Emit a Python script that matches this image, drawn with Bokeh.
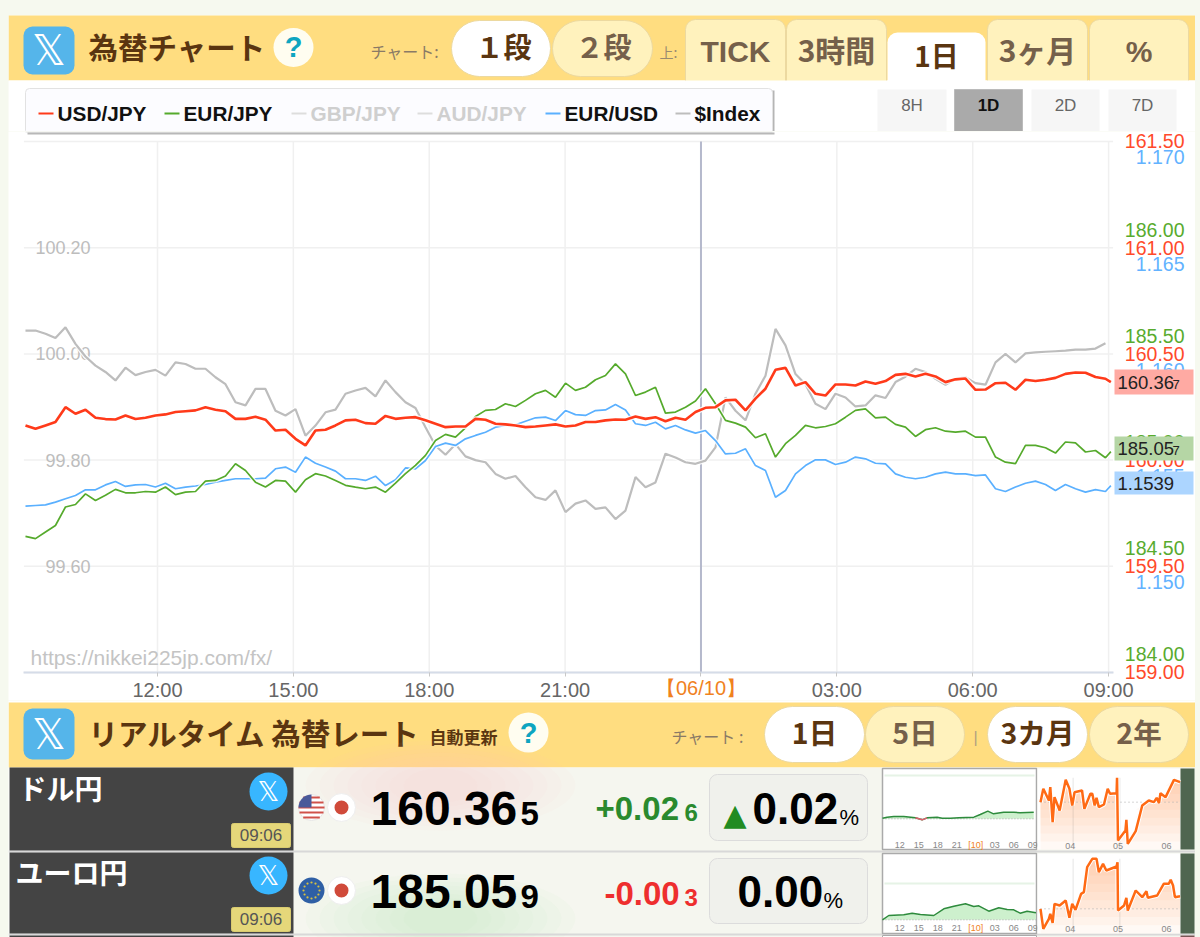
import math
import numpy as np
from bokeh.plotting import figure
from bokeh.layouts import column
from bokeh.models import Range1d, LinearAxis, FixedTicker, NumeralTickFormatter
from bokeh.core.properties import value
from bokeh.embed import file_html
from bokeh.resources import INLINE

# ---------------- data ----------------
TIMES = [round(9.085 + 0.2208 * i, 3) for i in range(109)] + [33.05]

USD_JPY = [160.163,160.147,160.163,160.179,160.249,160.218,160.237,160.199,160.193,160.191,160.210,160.193,160.199,160.210,160.215,160.226,160.230,160.234,160.249,160.237,160.230,160.194,160.194,160.204,160.190,160.139,160.143,160.100,160.069,160.139,160.143,160.163,160.187,160.190,160.174,160.171,160.208,160.194,
160.199,160.202,160.187,160.171,160.155,160.158,160.158,160.194,160.190,160.171,160.168,160.163,160.155,160.158,160.163,160.168,160.158,160.163,160.179,160.179,160.187,160.191,160.190,160.205,160.194,160.202,160.183,160.199,160.190,160.226,160.246,160.249,160.281,160.284,160.234,160.289,160.336,160.425,160.434,160.351,
160.367,160.312,160.304,160.356,160.356,160.351,160.370,160.359,160.372,160.401,160.406,160.394,160.406,160.394,160.367,160.380,160.384,160.331,160.332,160.362,160.364,160.331,160.378,160.372,160.378,160.387,160.406,160.412,160.411,160.391,160.383,160.367]

EUR_JPY = [184.641,184.630,184.661,184.692,184.779,184.791,184.841,184.810,184.834,184.862,184.846,184.846,184.852,184.849,184.873,184.837,184.849,184.852,184.901,184.904,184.925,184.983,184.951,184.896,184.873,184.904,184.901,184.849,184.907,184.936,184.925,184.904,184.881,184.873,184.865,184.873,184.849,184.892,
184.936,184.975,185.022,185.092,185.121,185.108,185.152,185.205,185.234,185.238,185.265,185.252,185.281,185.312,185.328,185.296,185.362,185.328,185.343,185.378,185.398,185.453,185.406,185.304,185.320,185.343,185.221,185.226,185.249,185.278,185.336,185.265,185.187,185.174,185.155,185.105,185.124,185.014,185.077,185.116,
185.163,185.152,185.158,185.171,185.202,185.234,185.241,185.199,185.202,185.168,185.155,185.111,185.143,185.152,185.136,185.132,185.136,185.108,185.108,185.014,184.990,184.983,185.069,185.069,185.058,185.033,185.085,185.081,185.038,185.045,185.011,185.040]

EUR_USD = [1.15283,1.15286,1.15289,1.15302,1.15318,1.15333,1.15360,1.15360,1.15383,1.15399,1.15376,1.15383,1.15385,1.15373,1.15391,1.15365,1.15373,1.15378,1.15385,1.15396,1.15404,1.15412,1.15412,1.15412,1.15415,1.15459,1.15467,1.15443,1.15514,1.15485,1.15467,1.15448,1.15412,1.15412,1.15404,1.15424,1.15380,1.15407,
1.15463,1.15459,1.15498,1.15564,1.15580,1.15569,1.15600,1.15616,1.15631,1.15655,1.15663,1.15666,1.15683,1.15699,1.15702,1.15686,1.15733,1.15714,1.15710,1.15733,1.15736,1.15762,1.15736,1.15671,1.15663,1.15678,1.15647,1.15663,1.15642,1.15627,1.15639,1.15592,1.15529,1.15532,1.15553,1.15474,1.15451,1.15325,1.15357,1.15435,
1.15474,1.15501,1.15501,1.15479,1.15490,1.15514,1.15506,1.15485,1.15482,1.15435,1.15419,1.15412,1.15419,1.15435,1.15443,1.15435,1.15435,1.15427,1.15430,1.15365,1.15352,1.15373,1.15391,1.15401,1.15385,1.15357,1.15385,1.15365,1.15349,1.15361,1.15352,1.15380]

DOLLAR_INDEX = [100.044,100.044,100.038,100.030,100.050,100.019,99.995,99.978,99.966,99.950,99.974,99.960,99.966,99.970,99.959,99.984,99.981,99.972,99.972,99.956,99.943,99.909,99.903,99.934,99.934,99.893,99.884,99.896,99.846,99.865,99.890,99.895,99.925,99.931,99.936,99.920,99.950,99.928,
99.909,99.898,99.862,99.827,99.810,99.830,99.807,99.800,99.796,99.774,99.765,99.770,99.749,99.730,99.725,99.743,99.702,99.718,99.724,99.708,99.711,99.689,99.705,99.768,99.749,99.758,99.812,99.805,99.796,99.793,99.799,99.824,99.918,99.893,99.875,99.925,99.959,100.047,100.016,99.962,
99.943,99.906,99.896,99.925,99.918,99.901,99.903,99.922,99.917,99.947,99.957,99.972,99.966,99.953,99.942,99.953,99.956,99.945,99.942,99.984,100.000,99.984,100.001,100.003,100.004,100.005,100.006,100.008,100.008,100.010,100.020,float("nan")]

USD_TICKS = [159.0, 159.5, 160.0, 160.5, 161.0, 161.5]
EUR_TICKS = [184.0, 184.5, 185.0, 185.5, 186.0]
BLUE_TICKS = [1.150, 1.155, 1.160, 1.165, 1.170]
INDEX_TICKS = [99.6, 99.8, 100.0, 100.2]
TIME_TICKS = {12: "12:00", 15: "15:00", 18: "18:00", 21: "21:00", 24: "", 27: "03:00", 30: "06:00", 33: "09:00"}
DATE_LABEL = "【06/10】"

LEGEND = ["USD/JPY", "EUR/JPY", "GBP/JPY", "AUD/JPY", "EUR/USD", "$Index"]
RANGE_BTNS = ["8H", "1D", "2D", "7D"]

MINI1_HOURS = [9.26,10.0,11.05,12.63,14.47,15.53,16.3,17.9,18.7,20,21.3,23.7,24.7,25.9,26.8,28.4,30,31,33.15]
MINI1_PCT = [.002,.005,.007,.007,.003,-.003,.003,.005,.002,.002,.003,.005,.013,.023,.015,.020,.020,.018,.020]
MINI2_HOURS = [9.26,10.26,12.63,13.95,15.26,17.37,18.95,20.53,22.37,23.68,24.47,26.05,27.63,28.95,30,31,32.1,33.5]
MINI2_PCT = [0,.013,.015,.020,.016,.013,.033,.041,.048,.040,.042,.026,.036,.031,.030,.020,.026,.021]
MINI_TICK_HOURS = [12, 15, 18, 21, 24, 27, 30, 33]
MINI_TICK_TEXT = ["12", "15", "18", "21", "[10]", "03", "06", "09"]

M3A_MONTH = [3.30,3.36,3.48,3.51,3.56,3.60,3.71,3.84,3.92,3.98,4.03,4.19,4.24,4.37,4.41,4.46,4.50,4.55,4.66,4.74,4.79,4.93,4.94,4.96,5.12,5.14,5.17,5.34,5.48,5.62,5.73,5.79,5.84,5.87,5.98,6.16,6.29]
M3A_RATE = [158.00,160.00,158.25,160.25,155.00,158.75,156.75,161.35,160.00,157.50,159.50,159.75,157.00,159.25,159.25,157.50,158.65,157.25,157.65,160.00,159.25,159.35,161.65,152.25,153.75,155.35,151.75,153.65,157.50,158.25,158.00,158.65,157.85,159.35,158.75,161.35,161.00]
M3B_MONTH = [3.30,3.36,3.48,3.51,3.56,3.60,3.71,3.84,3.92,3.98,4.05,4.17,4.23,4.30,4.41,4.50,4.55,4.64,4.71,4.93,4.95,4.96,5.09,5.14,5.17,5.34,5.48,5.57,5.60,5.80,5.94,6.05,6.09,6.14,6.18,6.29]
M3B_RATE = [178.00,174.40,176.20,177.10,175.48,178.90,178.60,179.50,176.38,178.90,177.82,180.70,181.00,185.50,187.00,187.00,184.60,186.10,184.90,185.62,186.40,177.70,178.60,179.98,177.70,181.30,180.10,181.18,179.98,180.40,182.50,182.50,183.22,182.20,180.10,180.28]

# ---------------- helpers ----------------
W = 1187
ARIAL = "Liberation Sans"
CJK = "Noto Sans CJK JP"
PAGE_BG = "#f6f9ef"
BAND = "#ffdd80"
TAB = "#fff2bd"
TAB_EDGE = "#ecd9a0"
BROWN = "#5a3510"
BROWN2 = "#75604a"


def base_fig(height, x_range, y_range, bg):
    f = figure(width=W, height=height, x_range=x_range, y_range=y_range, x_axis_type=None, y_axis_type=None,
               output_backend="svg", toolbar_location=None, tools="", min_border=0,
               background_fill_color=bg, border_fill_color=bg, outline_line_color=None)
    return f


def T(f, x, y, s, size, color="#000000", font=ARIAL, bold=False, align="center", base="middle", **kw):
    f.text(x=[x], y=[y], text=[s], text_font=value(font), text_font_size=value(f"{size}px"),
           text_font_style="bold" if bold else "normal", text_color=color, text_align=align, text_baseline=base, **kw)


def box(f, l, r, t, b, fill, edge=None, radius=0, lw=1, **kw):
    f.quad(left=[l], right=[r], top=[t], bottom=[b], fill_color=fill, line_color=edge, line_width=lw,
           border_radius=radius, **kw)


def x_logo(f, l, r, t, b):
    box(f, l, r, t, b, "#55b5ea", None, 9)
    T(f, (l + r) / 2, (t + b) / 2, "𝕏", 42, "#ffffff", "DejaVu Sans")


# ---------------- header ----------------
top = base_fig(123, Range1d(8, 8 + W), Range1d(131, 8), PAGE_BG)
box(top, 8, 1195, 15, 131, "#ffffff")
box(top, 8, 1195, 15, 80, BAND)
x_logo(top, 23, 74, 26, 74)
T(top, 88, 45, "為替チャート", 29.5, BROWN, CJK, True, "left")
top.ellipse(x=[293], y=[47], width=[40], height=[39], fill_color="#fffdf0", line_color=None)
T(top, 293, 46, "?", 29, "#0ea5c0", ARIAL, True)
T(top, 370, 50, "チャート:", 16, "#8a7a66", CJK, False, "left")
box(top, 451, 550, 20, 76, "#ffffff", TAB_EDGE, 28)
T(top, 503, 45, "１段", 28, BROWN, CJK, True)
box(top, 552, 652, 20, 76, TAB, TAB_EDGE, 28)
T(top, 603, 45, "２段", 28, BROWN2, CJK, True)
T(top, 659, 51, "上:", 14, "#998a70", CJK, False, "left")
for l, r, s, font in [(685, 785, "TICK", ARIAL), (786, 886, "3時間", CJK), (987, 1087, "3ヶ月", CJK), (1089, 1188, "%", ARIAL)]:
    box(top, l, r, 19, 92, TAB, TAB_EDGE, 10)
    T(top, (l + r) / 2, 51 if font == ARIAL else 48, s, 30, BROWN2, font, True)
box(top, 887, 985, 32, 92, "#ffffff", None, 10)
T(top, 936, 54.5, "1日", 28, BROWN, CJK, True)
box(top, 8, 1195, 80, 131, "#ffffff")

box(top, 27, 774, 90, 134, "#b5b5b5")
box(top, 25, 772, 88, 134, "#fcfcff", "#e2e2e2", 4)
LEG_COLORS = ["#ff3a1a", "#55aa2c", "#dddddd", "#dddddd", "#5ab0ff", "#bdbdbd"]
LEG_TEXT = ["#111111", "#111111", "#cfcfcf", "#cfcfcf", "#111111", "#111111"]
LEG_X0 = [38, 164, 291, 417, 545, 675]
for name, c, tc, x0 in zip(LEGEND, LEG_COLORS, LEG_TEXT, LEG_X0):
    top.segment(x0=[x0], x1=[x0 + 15], y0=[113], y1=[113], line_color=c, line_width=2)
    T(top, x0 + 19, 113, name, 20.8, tc, ARIAL, True, "left")
for (l, r), s in zip([(877, 946), (954, 1022), (1031, 1099), (1108, 1176)], RANGE_BTNS):
    on = s == "1D"
    box(top, l, r, 89, 131, "#aaaaaa" if on else "#f6f6f6", "#bbbbbb" if on else None)
    T(top, (l + r) / 2, 105, s, 17, "#111111" if on else "#666666", ARIAL, on)

# ---------------- main chart ----------------
hours_at = lambda px: 12 + (px - 157) / 45.29
chart = base_fig(569, Range1d(hours_at(8), hours_at(8 + W)), Range1d(158.868, 161.547), "#ffffff")
chart.extra_x_ranges = {"px": Range1d(8, 8 + W)}
chart.extra_y_ranges = {
    "py": Range1d(700, 131),
    "eur": Range1d(183.868, 186.547),
    "blue": Range1d(1.14368, 1.17047),
    "idx": Range1d(99.3473, 100.4188),
    "eur_lab": Range1d(183.868 - 18 / 212.4, 186.547 - 18 / 212.4),
    "blue_lab": Range1d(1.14368 + 16 / 21240, 1.17047 + 16 / 21240),
}
box(chart, 25, 772, 131, 132, "#e2e2e2", x_range_name="px", y_range_name="py")
box(chart, 27, 774, 132, 134, "#b8b8b8", x_range_name="px", y_range_name="py")
T_START, T_END = 9.05, 33.1
GRID = "#f0f0f0"
chart.segment(x0=T_START, x1=T_END, y0=USD_TICKS, y1=USD_TICKS, line_color=GRID, line_width=1.5, level="underlay")
chart.segment(x0=[h for h in TIME_TICKS if h != 24], x1=[h for h in TIME_TICKS if h != 24], y0=159, y1=161.5,
              line_color=GRID, line_width=1.5, level="underlay")
chart.segment(x0=[24], x1=[24], y0=159, y1=161.5, line_color="#b5b9cc", line_width=2)


def add_y_axis(rng, ticks, color, px, size, fmt):
    ax = LinearAxis(y_range_name=rng, ticker=FixedTicker(ticks=ticks), fixed_location=hours_at(px),
                    formatter=NumeralTickFormatter(format=fmt), axis_line_color=None,
                    major_tick_line_color=None, minor_tick_line_color=None, major_tick_in=0, major_tick_out=0,
                    minor_tick_out=0, major_label_standoff=2, major_label_text_color=color,
                    major_label_text_font=ARIAL, major_label_text_font_size=f"{size}px", level="underlay")
    chart.add_layout(ax, "left")


add_y_axis("idx", INDEX_TICKS, "#bdbdbd", 92, 18, "0.00")
add_y_axis("eur_lab", EUR_TICKS, "#58ab2e", 1186, 19.5, "0.00")
add_y_axis("default", USD_TICKS, "#ff4a2a", 1186, 19.5, "0.00")
add_y_axis("blue_lab", BLUE_TICKS, "#62b2ff", 1186, 19.5, "0.000")

xax = LinearAxis(ticker=FixedTicker(ticks=list(TIME_TICKS)), major_label_overrides=dict(TIME_TICKS),
                 fixed_location=159.0, bounds=(T_START, T_END), axis_line_color="#d5dce8", axis_line_width=2,
                 major_tick_line_color="#c8c8c8", major_tick_in=0, major_tick_out=4, minor_tick_out=0, minor_tick_in=0,
                 minor_tick_line_color=None, major_label_standoff=3, major_label_text_color="#666666",
                 major_label_text_font=ARIAL, major_label_text_font_size="20px")
chart.add_layout(xax, "below")
T(chart, 24, 687, DATE_LABEL, 20, "#f0821e", ARIAL, y_range_name="py")
T(chart, 30, 657, "https://nikkei225jp.com/fx/", 21, "#c4c4c4", ARIAL, False, "left", x_range_name="px", y_range_name="py")


def series(y, color, lw, rng=None):
    kw = {"y_range_name": rng} if rng else {}
    chart.line(TIMES, y, line_color="#ffffff", line_width=lw + 2.5, line_alpha=0.85, **kw)
    chart.line(TIMES, y, line_color=color, line_width=lw, **kw)


series(DOLLAR_INDEX, "#bdbdbd", 2.2, "idx")
series(EUR_USD, "#5ab0ff", 1.7, "blue")
series(EUR_JPY, "#55aa2c", 1.7, "eur")
series(USD_JPY, "#ff3a1a", 2.6)

for t, b, fill, main, sub in [(369, 394, "#ffaaa3", "160.36", "7"), (436, 460, "#b5d6a5", "185.05", "7"), (471, 494, "#acd5ff", "1.1539", "")]:
    box(chart, 1114, 1193, t, b, fill, x_range_name="px", y_range_name="py")
    T(chart, 1117, (t + b) / 2, main, 18.5, "#222222", ARIAL, False, "left", x_range_name="px", y_range_name="py")
    if sub:
        T(chart, 1172, (t + b) / 2 + 2, sub, 13, "#222222", ARIAL, False, "left", x_range_name="px", y_range_name="py")

# ---------------- footer ----------------
foot = base_fig(237, Range1d(8, 8 + W), Range1d(937, 700), "#ffffff")
foot.extra_x_ranges = {
    "hour": Range1d(12 - (899.3 - 8) / 6.333, 12 + (8 + W - 899.3) / 6.333),
    "month": Range1d(4 - (1072.67 - 8) / 46.67, 4 + (8 + W - 1072.67) / 46.67),
}
foot.extra_y_ranges = {
    "pct1": Range1d(-0.356, 0.355),
    "pct2": Range1d(-0.053, 0.658),
    "rateA": Range1d(137.7, 173.25),
    "rateB": Range1d(172.84, 215.5),
}
box(foot, 8, 1195, 702, 767, BAND)
x_logo(foot, 23, 74, 708, 759)
T(foot, 88, 731, "リアルタイム 為替レート", 29.5, BROWN, CJK, True, "left")
T(foot, 429, 736, "自動更新", 17, BROWN, CJK, True, "left")
foot.ellipse(x=[528], y=[732], width=[40], height=[40], fill_color="#fffdf0", line_color=None)
T(foot, 528, 732, "?", 29, "#0ea5c0", ARIAL, True)
T(foot, 671, 735, "チャート :", 16, "#8a7a66", CJK, False, "left")
T(foot, 975, 737, "|", 16, "#b0a080", ARIAL)
for l, r, s, on in [(764, 864, "1日", True), (865, 964, "5日", False), (987, 1087, "3カ月", True), (1089, 1188, "2年", False)]:
    box(foot, l, r, 706, 762, "#ffffff" if on else TAB, TAB_EDGE, 28)
    T(foot, (l + r) / 2, 731, s, 28.5, BROWN if on else BROWN2, CJK, True)

# rows
box(foot, 293, 1195, 767, 937, "#f5f6ef")
for cy, tint in [(785, "#f6c8c0"), (918, "#b5f0b0")]:
    for k in range(8):
        foot.ellipse(x=[440], y=[cy], width=[270 - k * 28], height=[90 - k * 8], fill_color=tint, fill_alpha=0.05, line_color=None)
box(foot, 8, 1195, 850, 852, "#d8d8d8")
box(foot, 8, 1195, 933, 935, "#d8d8d8")
for t, b in [(767, 850), (852, 933), (935, 937)]:
    box(foot, 9, 293, t, b, "#444444")
T(foot, 18, 787, "ドル円", 28, "#ffffff", CJK, True, "left")
T(foot, 15, 871, "ユーロ円", 28, "#ffffff", CJK, True, "left")
for cy, by in [(791, 823), (875, 907)]:
    foot.circle(x=[268], y=[cy], radius=19, fill_color="#38b6ff", line_color=None)
    T(foot, 268, cy, "𝕏", 27, "#ffffff", "DejaVu Sans")
    box(foot, 231, 290, by, by + 24, "#e5d77a", "#d9cb70", 2)
    T(foot, 260.5, by + 12, "09:06", 17, "#555555", ARIAL)

# flags
foot.circle(x=[311], y=[807], radius=13, fill_color="#ffffff", line_color="#e6e6e6")
for dy in [-10, -5, 0, 5, 10]:
    hw = math.sqrt(169 - dy * dy)
    foot.segment(x0=[311 - hw], x1=[311 + hw], y0=[807 + dy], y1=[807 + dy], line_color="#d0524a", line_width=2)
arc = np.linspace(math.pi / 2, math.pi, 10)
foot.patch(x=[311] + list(311 + 13 * np.cos(arc)), y=[807] + list(807 - 13 * np.sin(arc)), fill_color="#4a5a9a", line_color=None)
foot.circle(x=[311], y=[890], radius=13, fill_color="#2f5fa5", line_color=None)
ang = np.linspace(0, 2 * math.pi, 12, endpoint=False)
foot.circle(x=311 + 8 * np.cos(ang), y=890 + 8 * np.sin(ang), radius=1.1, fill_color="#d8c040", line_color=None)
for cy in [807, 890]:
    foot.circle(x=[341], y=[cy], radius=14, fill_color="#ffffff", line_color="#eeeeee")
    foot.circle(x=[341], y=[cy], radius=7, fill_color="#d04a3a", line_color=None)

# rates
T(foot, 370, 808, "160.36", 48, "#000000", ARIAL, True, "left")
T(foot, 520, 813, "5", 33, "#000000", ARIAL, True, "left")
T(foot, 370, 891, "185.05", 48, "#000000", ARIAL, True, "left")
T(foot, 520, 896, "9", 33, "#000000", ARIAL, True, "left")
T(foot, 595, 807.5, "+0.02", 33, "#2a8a2e", ARIAL, True, "left")
T(foot, 684, 811.5, "6", 24, "#2a8a2e", ARIAL, True, "left")
T(foot, 604, 892.5, "-0.00", 33, "#ee2e2e", ARIAL, True, "left")
T(foot, 684, 896.5, "3", 24, "#ee2e2e", ARIAL, True, "left")
box(foot, 709, 867, 774, 840, "#f0f1ec", "#dcdcdc", 8)
box(foot, 709, 867, 858, 923, "#f0f1ec", "#dcdcdc", 8)
T(foot, 723, 813.5, "▲", 30, "#228b22", "DejaVu Sans", False, "left")
T(foot, 752, 808, "0.02", 44, "#000000", ARIAL, True, "left")
T(foot, 839, 817, "%", 22, "#000000", ARIAL, False, "left")
T(foot, 737, 891, "0.00", 44, "#000000", ARIAL, True, "left")
T(foot, 823, 900, "%", 22, "#000000", ARIAL, False, "left")


def mini_1d(hours, pct, rng, t, b, grid_px, label_px):
    box(foot, 882, 1036, t, b, "#ffffff", "#aaaaaa", lw=1.5)
    foot.segment(x0=[884], x1=[1034], y0=[grid_px], y1=[grid_px], line_color="#e6f3e6", line_width=2)
    foot.varea(x=hours, y1=[0] * len(hours), y2=[max(v, 0) for v in pct], fill_color="#cdf0cd",
               x_range_name="hour", y_range_name=rng)
    foot.segment(x0=[hours[0]], x1=[hours[-1]], y0=[0], y1=[0], line_color="#aaaaaa", line_width=1, line_dash="1 2",
                 x_range_name="hour", y_range_name=rng)
    foot.line(hours, pct, line_color="#2e8b3d", line_width=1.5, x_range_name="hour", y_range_name=rng)
    neg = [i for i, v in enumerate(pct) if v < 0]
    if neg:
        rng_i = [neg[0] - 1, neg[0], neg[0] + 1]
        foot.line([hours[i] for i in rng_i], [pct[i] for i in rng_i], line_color="#e06070", line_width=1.5,
                  x_range_name="hour", y_range_name=rng)
    for h, s in zip(MINI_TICK_HOURS, MINI_TICK_TEXT):
        T(foot, h, label_px, s, 9, "#f0821e" if s.startswith("[") else "#888888", ARIAL, False, x_range_name="hour")


mini_1d(MINI1_HOURS, MINI1_PCT, "pct1", 768, 849, 775, 844)
mini_1d(MINI2_HOURS, MINI2_PCT, "pct2", 853, 933, 883, 927)


def mini_3m(months, rates, rng, t, b, base, fill_bottom, label_px):
    box(foot, 1037, 1180, t, b, "#ffffff")
    box(foot, 1180, 1194, t, b, "#4f6650")
    foot.segment(x0=[4, 5], x1=[4, 5], y0=fill_bottom, y1=max(rates), line_color="#eeeeee", line_width=1.5,
                 x_range_name="month", y_range_name=rng)
    levels = np.linspace(fill_bottom, max(rates), 10)[:-1]
    for L in levels:
        foot.varea(x=months, y1=[L] * len(months), y2=[max(v, L) for v in rates], fill_color="#ff9a5a", fill_alpha=0.06,
                   x_range_name="month", y_range_name=rng)
    foot.segment(x0=[months[0]], x1=[months[-1]], y0=[base], y1=[base], line_color="#aaaaaa", line_width=1, line_dash="1 3",
                 x_range_name="month", y_range_name=rng)
    foot.line(months, rates, line_color="#ffffff", line_width=4.5, x_range_name="month", y_range_name=rng)
    foot.line(months, rates, line_color="#ff6a14", line_width=2.5, x_range_name="month", y_range_name=rng)
    for m, s in [(3.84 + 0.1, "04"), (4.96, "05"), (6.0, "06")]:
        T(foot, m, label_px, s, 9, "#888888", ARIAL, False, x_range_name="month")


mini_3m(M3A_MONTH, M3A_RATE, "rateA", 768, 849, 158.0, 150.9, 845)
mini_3m(M3B_MONTH, M3B_RATE, "rateB", 853, 933, 178.0, 173.56, 928)
box(foot, 882, 1036, 935, 938, "#ffffff", "#aaaaaa")
box(foot, 1180, 1194, 935, 938, "#7a5555")

root = column(top, chart, foot, spacing=0)
html = file_html(root, INLINE)
html = html.replace("</head>", f"<style>html,body{{background:{PAGE_BG};margin:0 !important;}} body{{padding:8px 0 0 8px !important;box-sizing:border-box;}}</style></head>")
open("out.html", "w").write(html)
